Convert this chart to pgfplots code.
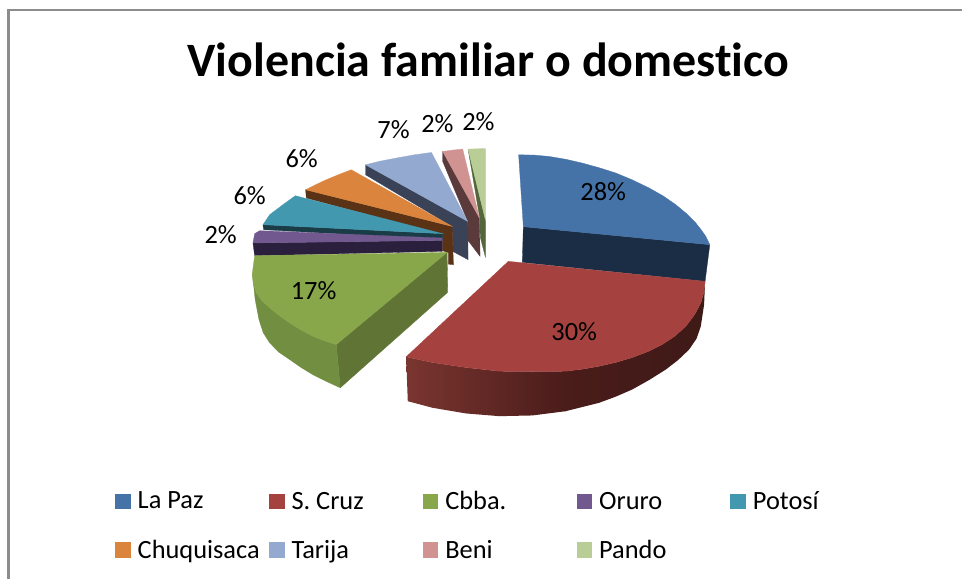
\documentclass[border=0pt]{standalone}
\usepackage{fontspec}
\setmainfont{Carlito}[Ligatures=NoCommon]
\usepackage{pgfplots}
\pgfplotsset{compat=1.18}
\definecolor{lapaz}{HTML}{4572A7}\definecolor{lapazd}{HTML}{1B2D45}
\definecolor{scruz}{HTML}{A5423F}\definecolor{scruzl}{HTML}{7A3530}\definecolor{scruzd}{HTML}{4A1C1A}\definecolor{scruze}{HTML}{3E1A17}
\definecolor{cbba}{HTML}{88A64A}\definecolor{cbbad}{HTML}{607535}\definecolor{cbbas}{HTML}{728E40}
\definecolor{oruro}{HTML}{71588F}\definecolor{orurod}{HTML}{2A1F3C}
\definecolor{potosi}{HTML}{4198AF}\definecolor{potosid}{HTML}{193C46}
\definecolor{chuq}{HTML}{DB843D}\definecolor{chuqd}{HTML}{5A3316}
\definecolor{tarija}{HTML}{93A9CF}\definecolor{tarijad}{HTML}{3A4258}
\definecolor{beni}{HTML}{D19392}\definecolor{benid}{HTML}{5A3A3A}
\definecolor{pando}{HTML}{B9CD96}\definecolor{pandod}{HTML}{55663C}
\begin{document}
\begin{tikzpicture}
\begin{axis}[
  scale only axis, width=963bp, height=580bp,
  xmin=0, xmax=963, ymin=0, ymax=580, y dir=reverse,
  axis lines=none, clip=false,
  title={\fontsize{48bp}{54bp}\selectfont\bfseries Violencia familiar o domestico},
  title style={at={(axis cs:489,66)}, anchor=center, inner sep=0pt},
  /pgf/number format/assume math mode=true,
  legend columns=5,
  legend style={at={(axis cs:115.4,492)}, anchor=north west, draw=none, fill=none, inner sep=0pt, outer sep=0pt,
    font=\fontsize{26.4bp}{30bp}\selectfont, row sep=29bp,
    /tikz/every odd column/.append style={column sep=7bp},
    nodes={inner sep=0pt, anchor=west}},
  legend cell align=left,
  legend image code/.code={\fill[#1,draw=none] (0bp,-7.75bp) rectangle (15.5bp,7.75bp);},
  every axis plot/.append style={forget plot},
]
% page
\addplot[fill=white, draw=none] coordinates {(0,0) (963,0) (963,580) (0,580)} -- cycle;
% frame
\addplot[color=black!45, line width=2.5bp, mark=none] coordinates {(963,10) (8.5,10) (8.5,580)};
% Pando
\addplot[fill=pandod, draw=pandod, line width=.3pt] coordinates {(468.7,149.3) (486,220) (486,257.3) (481,238) (480.3,218)} -- cycle;
\addplot[fill=pando, draw=pando, line width=.3pt] coordinates {(468.7,149.3) (486,148.7) (486,220)} -- cycle;
% Beni
\addplot[fill=benid, draw=benid, line width=.3pt] coordinates {(443.3,151.7) (480,218.3) (480.7,256.7) (468,240) (468,221) (443.3,161.7)} -- cycle;
\addplot[fill=beni, draw=beni, line width=.3pt] coordinates {(443.3,151.7) (453,150.3) (463.3,149.3) (480,218.3)} -- cycle;
% Tarija
\addplot[fill=tarijad, draw=tarijad, line width=.3pt] coordinates {(366,165) (468.3,221.7) (468.7,260) (453.3,251.7) (452.7,226.7) (366,175)} -- cycle;
\addplot[fill=tarija, draw=tarija, line width=.3pt] coordinates {(366,165) (380,161.5) (396.7,158.3) (415,155) (432,152.7) (468.3,221.7)} -- cycle;
% Chuquisaca
\addplot[fill=chuqd, draw=chuqd, line width=.3pt] coordinates {(306,190) (452.7,226.7) (454,265) (449,264.5) (449,253) (443,251) (443,235) (306.7,198.3)} -- cycle;
\addplot[fill=chuq, draw=chuq, line width=.3pt] coordinates {(306,190) (316,185) (326.7,180) (340,174.5) (351.7,170) (452.7,226.7)} -- cycle;
% Potosi
\addplot[fill=potosid, draw=potosid, line width=.3pt] coordinates {(263.3,225) (443.3,234) (443.3,240) (264,230)} -- cycle;
\addplot[fill=potosi, draw=potosi, line width=.3pt] coordinates {(263.3,225) (270,215) (283.3,205) (295.7,196) (443.3,234)} -- cycle;
% Oruro
\addplot[fill=orurod, draw=orurod, line width=.3pt] coordinates {(253.3,243.3) (442.7,240.7) (442.7,251.7) (255,256)} -- cycle;
\addplot[fill=oruro, draw=oruro, line width=.3pt] coordinates {(253.3,243.3) (255,234) (260,231) (442.7,238.3) (442.7,240.7)} -- cycle;
% Cbba
\addplot[fill=cbbad, draw=cbbad, line width=.3pt] coordinates {(336.7,345) (447.7,252.7) (448.3,292.7) (340.7,388.3)} -- cycle;
\addplot[fill=cbbas, draw=cbbas, line width=.3pt] coordinates {(252.7,273.3) (253.6,284) (256.7,293.3) (262.4,301.3) (270,308.3) (279.6,316) (290,323.3) (301.4,330.4) (313.3,336.7) (325,341.3) (336.7,345) (340.7,388.3) (327,382) (313,375) (301.5,368) (290,360) (279,352.5) (270,343.3) (263.5,333) (259.3,320) (255.5,300)} -- cycle;
\addplot[fill=cbba, draw=cbba, line width=.3pt] coordinates {(447.7,252.7) (255,256) (252.7,273.3) (253.6,284) (256.7,293.3) (262.4,301.3) (270,308.3) (279.6,316) (290,323.3) (301.4,330.4) (313.3,336.7) (325,341.3) (336.7,345)} -- cycle;
% La Paz
\addplot[fill=lapazd, draw=lapazd, line width=.3pt] coordinates {(524,227) (710.7,245) (706,281.7) (523,262.7)} -- cycle;
\addplot[fill=lapaz, draw=lapaz, line width=.3pt] coordinates {(519.3,155) (534.6,155.3) (550,156.7) (566.5,159.5) (583,163.3) (600,168) (616.7,173.3) (633.5,180.3) (650,188.3) (664,196.2) (676.7,205) (687.5,214) (696.7,223.3) (702,230) (706.7,236.7) (710.7,245) (524,227)} -- cycle;
% S. Cruz
\addplot[left color=scruzl, right color=scruzd, draw=none] coordinates {(406.7,357.3) (433,363) (466.7,368) (500,371.7) (533,372) (566.7,371.7) (566.7,411.7) (533,416) (500,416.7) (466.7,414) (433,408.3) (408.3,401.7)} -- cycle;
\addplot[left color=scruzd, right color=scruze, draw=none] coordinates {(566,371.7) (583.5,369.6) (600,366.7) (617,362.8) (633,358) (648.6,352.1) (663,345) (675.8,336.5) (686.7,326.7) (695.4,315.2) (701.7,303.3) (704.7,293) (706,281.7) (705,305) (701.7,326.7) (697.5,339) (690,350) (679,360.5) (666.7,370) (650,380.5) (633,390) (617,397) (600,403.3) (566,411.8)} -- cycle;
\addplot[fill=scruz, draw=scruz, line width=.3pt] coordinates {(509,261.7) (706,281.7) (704.7,293) (701.7,303.3) (695.4,315.2) (686.7,326.7) (675.8,336.5) (663,345) (648.6,352.1) (633,358) (617,362.8) (600,366.7) (583.5,369.6) (566.7,371.7) (533,372) (500,371.7) (466.7,368) (433,363) (406.7,357.3)} -- cycle;
% data labels
\addplot[draw=none, mark=none, point meta=explicit,
  nodes near coords={\pgfmathprintnumber[precision=0]{\pgfplotspointmeta}\%},
  nodes near coords align=center,
  every node near coord/.append style={anchor=center, inner sep=0pt, text=black, font=\fontsize{26.4bp}{30bp}\selectfont}]
  table[x=x, y=y, meta=v] {
x y v
604 192 28
575 332 30
314 291 17
221 235 2
250 196 6
302 159 6
394 130 7
438 124 2
479 122 2
};
% legend
\addlegendimage{fill=lapaz}\addlegendentry{\makebox[131.5bp][l]{La Paz}}
\addlegendimage{fill=scruz}\addlegendentry{\makebox[131.5bp][l]{S. Cruz}}
\addlegendimage{fill=cbba}\addlegendentry{\makebox[131.5bp][l]{Cbba.}}
\addlegendimage{fill=oruro}\addlegendentry{\makebox[131.5bp][l]{Oruro}}
\addlegendimage{fill=potosi}\addlegendentry{\makebox[131.5bp][l]{Potosí}}
\addlegendimage{fill=chuq}\addlegendentry{\makebox[131.5bp][l]{Chuquisaca}}
\addlegendimage{fill=tarija}\addlegendentry{\makebox[131.5bp][l]{Tarija}}
\addlegendimage{fill=beni}\addlegendentry{\makebox[131.5bp][l]{Beni}}
\addlegendimage{fill=pando}\addlegendentry{\makebox[131.5bp][l]{Pando}}
\end{axis}
\end{tikzpicture}
\end{document}
